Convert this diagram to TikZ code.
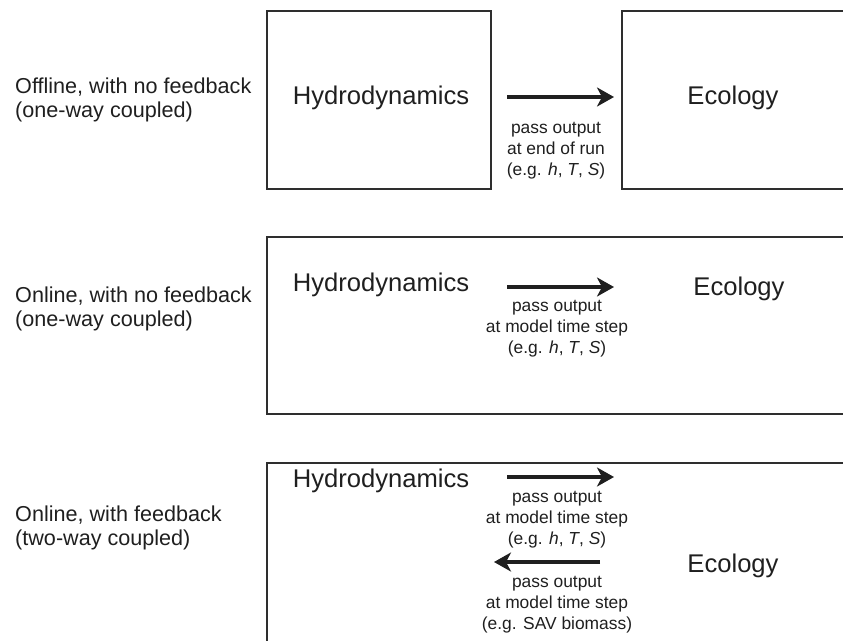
\documentclass[tikz,border=0pt]{standalone}
\usepackage{fontspec}
\setmainfont{Liberation Sans}
\usetikzlibrary{arrows.meta}
\begin{document}
\begin{tikzpicture}[x=1pt,y=-1pt,
  box/.style={draw=black!82, line width=2pt, inner sep=0pt},
  big/.style={font=\fontsize{25.6}{30}\selectfont, inner sep=0pt, text=black!88},
  side/.style={font=\fontsize{21.6}{24}\selectfont, align=left, anchor=west, inner sep=0pt, text=black!88},
  small/.style={font=\fontsize{17.4}{21}\selectfont, align=center, inner sep=0pt, text=black!88},
  flow/.style={draw=black!88, line width=3.2pt, -{Stealth[length=17pt,width=19pt,inset=5pt]}}]
\useasboundingbox (0,0) rectangle (843,640);
\clip (0,0) rectangle (843,640);
% row 1
\node[box, minimum width=224pt, minimum height=178pt] (b1) at (379,100) {};
\node[box, minimum width=250pt, minimum height=178pt] (b2) at (747,100) {};
\node[big] (h1) at (381,98) {Hydrodynamics};
\node[big] (e1) at (733,98) {Ecology};
\coordinate (a1s) at (507,97);
\coordinate (a1e) at (614,97);
\draw[flow] (a1s) -- (a1e);
\node[small] (l1) at (556,151) {pass output\\at end of run\\(e.g. \textit{h}, \textit{T}, \textit{S})};
\node[side] (s1) at (15,100) {Offline, with no feedback\\(one-way coupled)};
% row 2
\node[box, minimum width=600pt, minimum height=177pt] (b3) at (567,325.5) {};
\node[big] (h2) at (381,285) {Hydrodynamics};
\node[big] (e2) at (739,289) {Ecology};
\coordinate (a2s) at (507,287);
\coordinate (a2e) at (614,287);
\draw[flow] (a2s) -- (a2e);
\node[small] (l2) at (557,329) {pass output\\at model time step\\(e.g. \textit{h}, \textit{T}, \textit{S})};
\node[side] (s2) at (15,309) {Online, with no feedback\\(one-way coupled)};
% row 3
\node[box, minimum width=600pt, minimum height=197pt] (b4) at (567,561.5) {};
\node[big] (h3) at (381,481) {Hydrodynamics};
\node[big] (e3) at (733,566) {Ecology};
\coordinate (a3s) at (507,477);
\coordinate (a3e) at (614,477);
\draw[flow] (a3s) -- (a3e);
\node[small] (l3) at (557,520) {pass output\\at model time step\\(e.g. \textit{h}, \textit{T}, \textit{S})};
\coordinate (a4s) at (600,562);
\coordinate (a4e) at (494,562);
\draw[flow] (a4s) -- (a4e);
\node[small] (l4) at (557,605) {pass output\\at model time step\\(e.g. SAV biomass)};
\node[side] (s3) at (15,528) {Online, with feedback\\(two-way coupled)};
\end{tikzpicture}
\end{document}
